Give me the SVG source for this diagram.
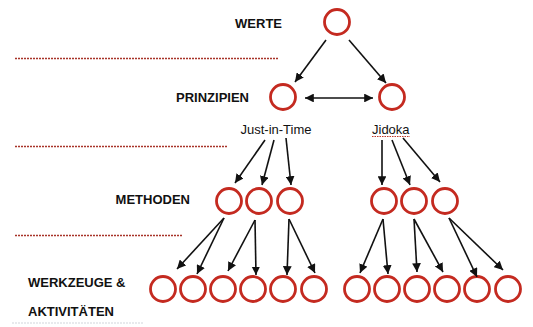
<svg xmlns="http://www.w3.org/2000/svg" width="533" height="327" viewBox="0 0 533 327">
<style>
.node circle{fill:#fff;stroke:#c42a20;stroke-width:2.8}
.lbl{font-family:"Liberation Sans",Arial,sans-serif;font-size:13px;font-weight:bold;fill:#111}
.txt{font-family:"Liberation Sans",Arial,sans-serif;font-size:13px;fill:#111}
.dot{stroke:#a8342a;stroke-width:1.6;stroke-dasharray:2 1;fill:none}
#connectors line{stroke:#111;stroke-width:1.6;marker-end:url(#ah)}
</style>
<defs>
<marker id="ah" viewBox="0 0 10 10" refX="10" refY="5" markerWidth="5.5" markerHeight="5.5" markerUnits="strokeWidth" orient="auto-start-reverse">
<path d="M0,0 L10,5 L0,10 z" fill="#111"/>
</marker>
</defs>
<rect width="533" height="327" fill="#fff"/>
<g id="separators">
<line class="dot" x1="15" y1="58.5" x2="278" y2="58.5"/>
<line class="dot" x1="15" y1="146.5" x2="227" y2="146.5"/>
<line class="dot" x1="15" y1="235.5" x2="183" y2="235.5"/>
<line x1="12" y1="323" x2="143" y2="323" stroke="#e1e4e8" stroke-width="1.5" stroke-dasharray="2 1"/>
</g>
<g id="labels">
<text class="lbl" x="282" y="28" text-anchor="end">WERTE</text>
<text class="lbl" x="249" y="102" text-anchor="end">PRINZIPIEN</text>
<text class="lbl" x="190" y="204" text-anchor="end">METHODEN</text>
<text class="lbl" x="28" y="287">WERKZEUGE &amp;</text>
<text class="lbl" x="28" y="316">AKTIVITÄTEN</text>
</g>
<g id="n-werte" class="node"><circle cx="337" cy="22" r="12.5"/></g>
<g id="n-p1" class="node"><circle cx="283" cy="97" r="12.5"/></g>
<g id="n-p2" class="node"><circle cx="392" cy="97" r="12.5"/></g>
<g id="t-jit"><text class="txt" x="276" y="134" text-anchor="middle">Just-in-Time</text></g>
<g id="t-jidoka"><text class="txt" x="372" y="134">Jidoka</text>
<line x1="372" y1="136.5" x2="410" y2="136.5" stroke="#c0392b" stroke-width="1" stroke-dasharray="1.5 1"/></g>
<g id="n-m1" class="node"><circle cx="229" cy="201" r="12.5"/></g>
<g id="n-m2" class="node"><circle cx="259" cy="201" r="12.5"/></g>
<g id="n-m3" class="node"><circle cx="290" cy="201" r="12.5"/></g>
<g id="n-m4" class="node"><circle cx="384" cy="201" r="12.5"/></g>
<g id="n-m5" class="node"><circle cx="414" cy="201" r="12.5"/></g>
<g id="n-m6" class="node"><circle cx="445" cy="201" r="12.5"/></g>
<g id="n-w1" class="node"><circle cx="163" cy="289" r="12.5"/></g>
<g id="n-w2" class="node"><circle cx="193" cy="289" r="12.5"/></g>
<g id="n-w3" class="node"><circle cx="223" cy="289" r="12.5"/></g>
<g id="n-w4" class="node"><circle cx="253" cy="289" r="12.5"/></g>
<g id="n-w5" class="node"><circle cx="283" cy="289" r="12.5"/></g>
<g id="n-w6" class="node"><circle cx="314" cy="289" r="12.5"/></g>
<g id="n-w7" class="node"><circle cx="357" cy="289" r="12.5"/></g>
<g id="n-w8" class="node"><circle cx="387" cy="289" r="12.5"/></g>
<g id="n-w9" class="node"><circle cx="417" cy="289" r="12.5"/></g>
<g id="n-w10" class="node"><circle cx="447" cy="289" r="12.5"/></g>
<g id="n-w11" class="node"><circle cx="477" cy="289" r="12.5"/></g>
<g id="n-w12" class="node"><circle cx="508" cy="289" r="12.5"/></g>
<g id="connectors">
<line x1="326" y1="40" x2="295" y2="82"/>
<line x1="349" y1="40" x2="386" y2="83"/>
<line x1="305" y1="98" x2="373" y2="98" style="marker-start:url(#ah)"/>
<line x1="265" y1="140" x2="235" y2="183"/>
<line x1="274" y1="140" x2="262" y2="185"/>
<line x1="286" y1="138" x2="291" y2="185"/>
<line x1="382" y1="140" x2="382" y2="185"/>
<line x1="392" y1="140" x2="410" y2="185"/>
<line x1="403" y1="138" x2="440" y2="182"/>
<line x1="224" y1="218" x2="177" y2="269"/>
<line x1="224" y1="218" x2="197" y2="274"/>
<line x1="255" y1="220" x2="228" y2="271"/>
<line x1="255" y1="220" x2="256" y2="275"/>
<line x1="289" y1="219" x2="287" y2="275"/>
<line x1="289" y1="219" x2="315" y2="273"/>
<line x1="383" y1="219" x2="360" y2="273"/>
<line x1="383" y1="219" x2="388" y2="274"/>
<line x1="414" y1="219" x2="417" y2="272"/>
<line x1="414" y1="219" x2="443" y2="272"/>
<line x1="449" y1="218" x2="477" y2="277"/>
<line x1="449" y1="218" x2="503" y2="270"/>
</g>
</svg>
